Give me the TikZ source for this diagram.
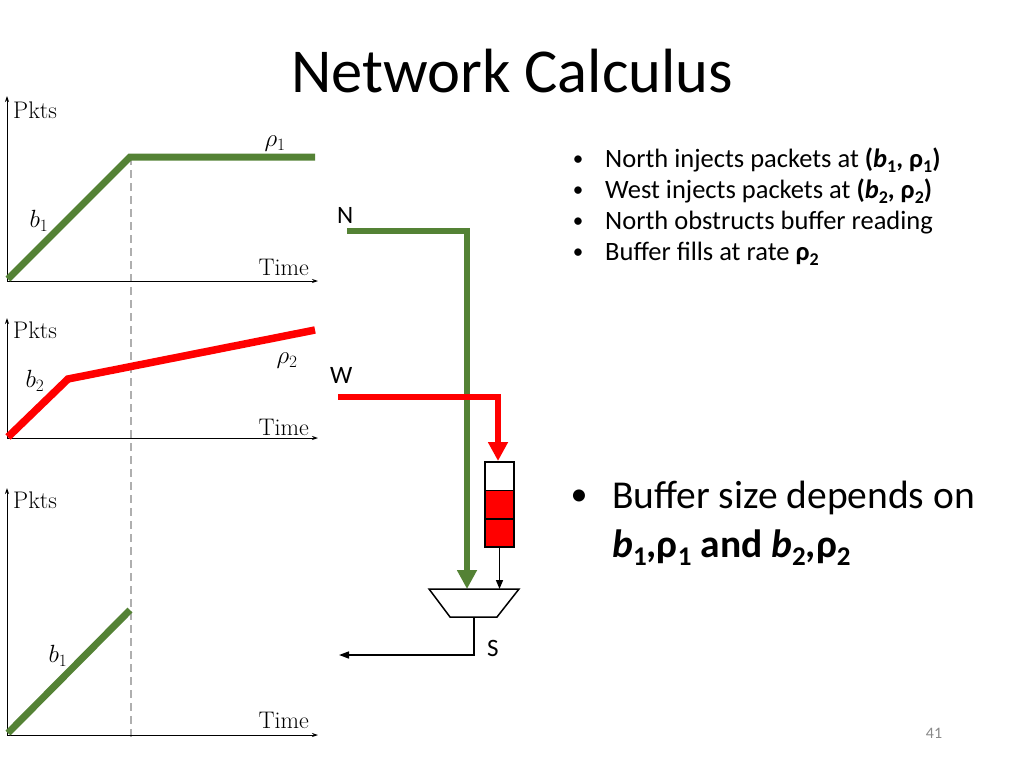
\documentclass[tikz,border=0pt]{standalone}
\usepackage{fontspec}
\setmainfont{Carlito}
\newfontfamily\lmfont{Latin Modern Roman}
\usetikzlibrary{arrows.meta}
\definecolor{grn}{RGB}{84,130,53}
\definecolor{rd}{RGB}{255,0,0}
\definecolor{dgrey}{RGB}{175,175,175}
\definecolor{numgrey}{RGB}{137,137,137}
\newcommand\smsub[1]{\raisebox{-0.22em}{\fontsize{18}{18}\selectfont #1}}
\newcommand\lgsub[1]{\raisebox{-0.22em}{\fontsize{27}{27}\selectfont #1}}
\begin{document}
\begin{tikzpicture}[x=1pt,y=-1pt,
  lm/.style={font=\lmfont\fontsize{24}{24}\selectfont, inner sep=0pt},
  cb/.style={font=\fontsize{26.5}{30}\selectfont, inner sep=0pt, anchor=base west},
  cbig/.style={font=\fontsize{39.5}{44}\selectfont, inner sep=0pt, anchor=base west},
  bul/.style={font=\fontsize{21}{21}\selectfont, inner sep=0pt, anchor=base},
  bigbul/.style={font=\fontsize{34}{34}\selectfont, inner sep=0pt, anchor=base},
  lbl/.style={font=\fontsize{25}{25}\selectfont, inner sep=0pt, anchor=base west},
  axisline/.style={line width=0.8pt, -{Stealth[length=6pt,width=4pt]}},
  gcurve/.style={line width=7pt, draw=grn, line join=miter},
  rcurve/.style={line width=7.5pt, draw=rd, line join=miter},
  guide/.style={draw=dgrey, line width=1.6pt, dash pattern=on 8pt off 5pt},
  wire/.style={line width=1.5pt, draw=black},
  cell/.style={draw=black, line width=1.5pt, minimum width=29pt, minimum height=28.3pt, inner sep=0pt}
]
\useasboundingbox (0,0) rectangle (1024,768);

% Title
\node[font=\fontsize{62.5}{62.5}\selectfont, anchor=base, inner sep=0pt] (title) at (512,92) {Network Calculus};

% dashed guide
\coordinate (dtop) at (131,157);
\coordinate (dbot) at (131,741);
\draw[guide] (dtop) -- (dbot);

% Graph 1
\coordinate (o1) at (7,281);
\coordinate (y1) at (7,96);
\coordinate (x1) at (318,281);
\draw[axisline] (o1) -- (y1);
\draw[axisline] (o1) -- (x1);
\node[lm, anchor=base west] (pk1) at (13,118) {Pkts};
\node[lm, anchor=base east] (t1) at (309,275) {Time};
\coordinate (g1a) at (8,279);
\coordinate (g1b) at (130,157);
\coordinate (g1c) at (315,157);
\draw[gcurve] (g1a) -- (g1b) -- (g1c);
\node[lm] (r1) at (275,144) {$\rho_1$};
\node[lm] (b1a) at (39,221) {$b_1$};

% Graph 2
\coordinate (o2) at (7,438);
\coordinate (y2) at (7,318);
\coordinate (x2) at (318,438);
\draw[axisline] (o2) -- (y2);
\draw[axisline] (o2) -- (x2);
\node[lm, anchor=base west] (pk2) at (13,338) {Pkts};
\node[lm, anchor=base east] (t2) at (309,435) {Time};
\coordinate (r2a) at (8,437);
\coordinate (r2b) at (68,379);
\coordinate (r2c) at (315,330);
\draw[rcurve] (r2a) -- (r2b) -- (r2c);
\node[lm] (r2) at (287,361) {$\rho_2$};
\node[lm] (b2a) at (35,381) {$b_2$};

% Graph 3
\coordinate (o3) at (7,735);
\coordinate (y3) at (7,488);
\coordinate (x3) at (318,735);
\draw[axisline] (o3) -- (y3);
\draw[axisline] (o3) -- (x3);
\node[lm, anchor=base west] (pk3) at (13,508) {Pkts};
\node[lm, anchor=base east] (t3) at (309,728) {Time};
\coordinate (g3a) at (8,733);
\coordinate (g3b) at (130,610);
\draw[gcurve] (g3a) -- (g3b);
\node[lm] (b1c) at (58,656) {$b_1$};

% Network: N input
\node[lbl] (N) at (337,223) {N};
\coordinate (ns) at (347,231);
\coordinate (nc) at (467,231);
\coordinate (ntip) at (467,589);
\draw[grn, line width=6pt, line join=miter, -{Triangle[length=19pt,width=19pt]}] (ns) -- (nc) -- (ntip);

% W input
\node[lbl] (W) at (330,383) {W};
\coordinate (ws) at (338,397);
\coordinate (wc) at (498,397);
\coordinate (wtip) at (498,461);
\draw[rd, line width=5.5pt, line join=miter, -{Triangle[length=19pt,width=19pt]}] (ws) -- (wc) -- (wtip);

% Buffer
\node[cell, fill=white] (c1) at (499.5,476.3) {};
\node[cell, fill=rd] (c2) at (499.5,504.6) {};
\node[cell, fill=rd] (c3) at (499.5,532.9) {};

% Mux trapezoid
\coordinate (tl) at (429,589);
\coordinate (tr) at (519,589);
\coordinate (br) at (497,617);
\coordinate (bl) at (450,617);
\draw[wire, line join=miter] (tl) -- (tr) -- (br) -- (bl) -- cycle;
\coordinate (bufin) at (499.5,589);
\draw[wire, -{Triangle[length=9pt,width=7pt]}] (c3.south) -- (bufin);

% Output
\coordinate (mo) at (474,617);
\coordinate (mc) at (474,655);
\coordinate (oe) at (339,655);
\draw[wire, -{Triangle[length=10pt,width=7pt]}] (mo) -- (mc) -- (oe);
\node[lbl] (S) at (487,656) {S};

% Bullets top right
\node[bul] (bu1) at (578,165) {•};
\node[cb] (tx1) at (605,167) {North injects packets at \textbf{(\textit{b}\smsub{1}, ρ\smsub{1})}};
\node[bul] (bu2) at (578,196) {•};
\node[cb] (tx2) at (605,198) {West injects packets at \textbf{(\textit{b}\smsub{2}, ρ\smsub{2})}};
\node[bul] (bu3) at (578,227) {•};
\node[cb] (tx3) at (605,229) {North obstructs buffer reading};
\node[bul] (bu4) at (578,258) {•};
\node[cb] (tx4) at (605,260) {Buffer fills at rate \textbf{ρ\smsub{2}}};

% Big bullet
\node[bigbul] (bu5) at (579,505) {•};
\node[cbig] (tx5) at (612,508) {Buffer size depends on};
\node[cbig] (tx6) at (612,557) {\textbf{\textit{b}\lgsub{1},ρ\lgsub{1} and \textit{b}\lgsub{2},ρ\lgsub{2}}};

% Page number
\node[font=\fontsize{16}{16}\selectfont, text=numgrey, inner sep=0pt] (pg) at (934,733) {41};
\end{tikzpicture}
\end{document}
